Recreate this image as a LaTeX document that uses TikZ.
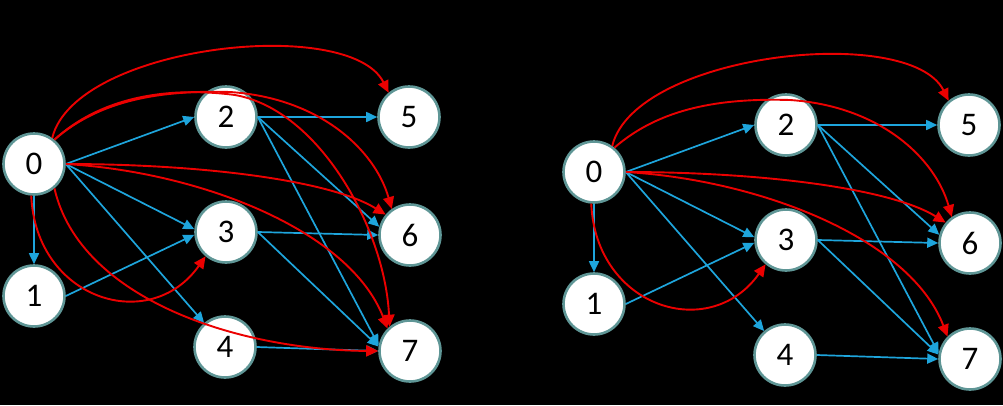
\documentclass[tikz,border=0pt]{standalone}
\usepackage{fontspec}
\setmainfont{Carlito}
\usetikzlibrary{arrows.meta}
\definecolor{edgeblue}{RGB}{30,165,220}
\definecolor{edgered}{RGB}{235,0,0}
\definecolor{ringcol}{RGB}{95,150,150}
\tikzset{
  vert/.style={circle, draw=ringcol, line width=2.6pt, fill=white, minimum size=61pt,
    inner sep=0pt, font=\fontsize{33}{36}\selectfont, text=black},
  bl/.style={draw=edgeblue, line width=1.7pt, -{Triangle[length=11pt,width=10pt]}},
  rd/.style={draw=edgered, line width=1.9pt, -{Triangle[length=12pt,width=11pt]}},
}
\newcommand\mycommongraph{%
  \node[vert] (n0) at (34,164) {0};
  \node[vert] (n1) at (34,296) {1};
  \node[vert] (n2) at (226,117) {2};
  \node[vert] (n3) at (226,232) {3};
  \node[vert] (n4) at (225,347) {4};
  \node[vert] (n5) at (409,117) {5};
  \node[vert] (n6) at (410,235) {6};
  \node[vert] (n7) at (410,351) {7};
  \draw[bl] (n0.south) -- (n1.north);
  \draw[bl] (n0.east) -- (n2.west);
  \draw[bl] (n0.east) -- (n3.175);
  \draw[bl] (n0.east) -- (n4);
  \draw[bl] (n1.east) -- (n3.185);
  \draw[bl] (n2.east) -- (n5.west);
  \draw[bl] (n2.east) -- (n6.165);
  \draw[bl] (n2.east) -- (n7.170);
  \draw[bl] (n3.east) -- (n6.west);
  \draw[bl] (n3.east) -- (n7.172);
  \draw[bl] (n4.east) -- (n7.west);
  \draw[rd] (n0.55) .. controls (75,45) and (350,15) .. (n5.130);
  \draw[rd] (n0.50) .. controls (100,100) and (160,90) .. (230,92)
            .. controls (320,98) and (375,150) .. (n6.125);
  \draw[rd] (n0.east) .. controls (200,164) and (330,180) .. (n6.140);
  \draw[rd] (n0.east) .. controls (200,172) and (350,230) .. (n7.135);
  \draw[rd] (n0.265) .. controls (36,300) and (150,335) .. (n3.230);
}
\begin{document}
\begin{tikzpicture}[x=1pt,y=-1pt]
  \fill[black] (0,0) rectangle (1003,405);
  \useasboundingbox (0,0) rectangle (1003,405);
  \begin{scope}[name prefix=L-]
    \mycommongraph
    \draw[rd] (n0.50) .. controls (100,98) and (165,86) .. (235,95)
              .. controls (320,110) and (385,230) .. (n7.130);
    \draw[rd] (n0.310) .. controls (80,300) and (240,350) .. (n7.west);
  \end{scope}
  \begin{scope}[shift={(560,8)}, name prefix=R-]
    \mycommongraph
  \end{scope}
\end{tikzpicture}
\end{document}
